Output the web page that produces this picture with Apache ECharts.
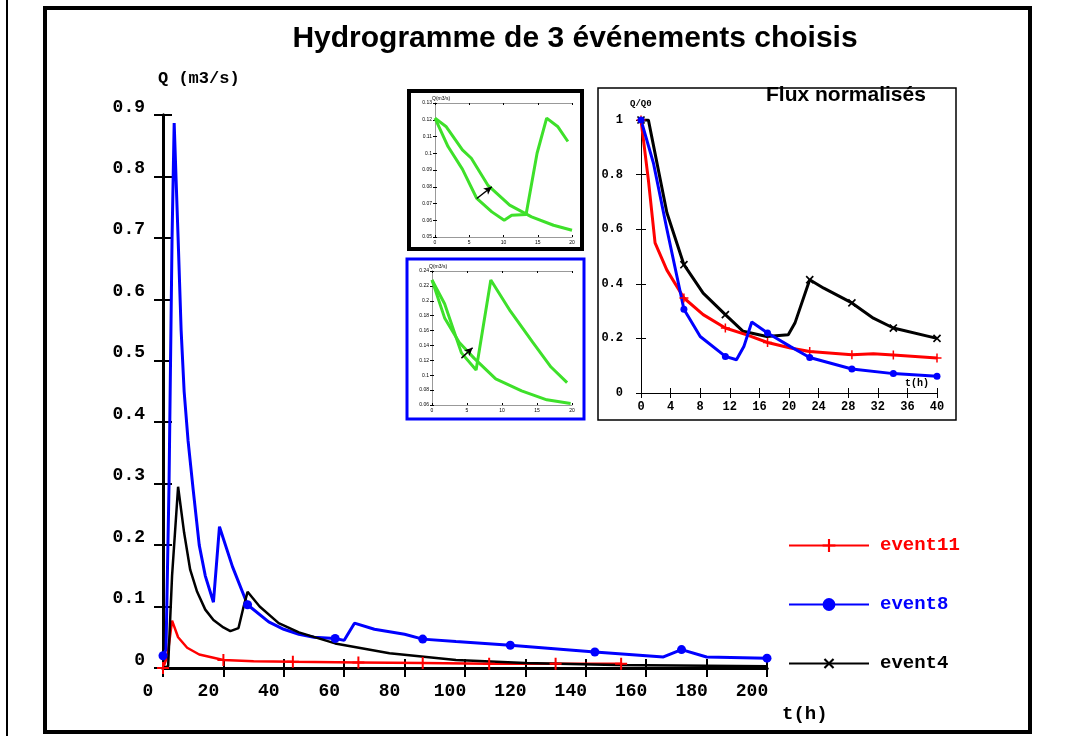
<!DOCTYPE html>
<html>
<head>
<meta charset="utf-8">
<script src="https://cdn.jsdelivr.net/npm/echarts@6/dist/echarts.min.js"></script>
<style>
  html, body { margin: 0; padding: 0; background: #fff; }
  #chart { width: 1072px; height: 736px; }
</style>
</head>
<body>
<div id="chart"></div>
<script>
// Main hydrograph: Q (m3/s) vs t (h)
const ev11T = [0, 1.5, 3, 5, 8, 12, 20, 30, 43, 64.7, 86, 108, 130, 151.7];
const ev11Q = [0, 0.02, 0.077, 0.05, 0.033, 0.022, 0.013, 0.011, 0.01, 0.009, 0.008, 0.007, 0.007, 0.007];
const ev11Marks = [0, 6, 8, 9, 10, 11, 12, 13];

const ev8T = [0, 1, 2, 3, 3.7, 4.3, 5, 6, 7, 8.3, 10, 12, 14, 16.7, 18.7, 23, 28, 35, 40, 45, 50, 57, 60, 63.4, 70, 80, 86, 97, 115, 143, 160, 165.7, 171.7, 180, 200];
const ev8Q = [0.02, 0.03, 0.3, 0.7, 0.887, 0.8, 0.7, 0.55, 0.45, 0.37, 0.29, 0.2, 0.15, 0.107, 0.23, 0.165, 0.103, 0.075, 0.063, 0.055, 0.05, 0.048, 0.045, 0.073, 0.063, 0.055, 0.047, 0.043, 0.037, 0.026, 0.02, 0.018, 0.03, 0.018, 0.016];
const ev8Marks = [0, 16, 21, 26, 28, 29, 32, 34];

const ev4T = [0, 1.7, 3, 5, 7, 9, 11.3, 14, 16.7, 20, 22.3, 25, 26.7, 28, 32, 38.3, 45, 57, 75, 97, 120, 150, 200];
const ev4Q = [0, 0.003, 0.15, 0.295, 0.22, 0.16, 0.124, 0.095, 0.078, 0.066, 0.06, 0.065, 0.1, 0.124, 0.1, 0.073, 0.058, 0.04, 0.024, 0.013, 0.008, 0.005, 0.003];
const ev4Marks = [];

// Normalised flows Q/Q0 vs t (h)
const n4T = [0, 1, 1.44, 3.5, 5.8, 8.4, 11.4, 13.8, 17, 19.9, 20.8, 22.8, 24.7, 28.5, 31.4, 34.1, 40];
const n4Q = [1, 1, 0.94, 0.66, 0.47, 0.366, 0.287, 0.226, 0.207, 0.213, 0.256, 0.415, 0.384, 0.33, 0.274, 0.238, 0.2];
const n4Marks = [0, 4, 6, 11, 13, 15, 16];
const n11T = [0, 1, 1.9, 3.5, 5.8, 8.4, 11.4, 14.3, 17.1, 20.2, 22.8, 28.5, 31.4, 34.1, 40];
const n11Q = [1, 0.78, 0.55, 0.45, 0.348, 0.287, 0.238, 0.213, 0.185, 0.165, 0.152, 0.14, 0.144, 0.139, 0.128];
const n11Marks = [0, 4, 6, 8, 10, 11, 13, 14];
const n8T = [0, 1.7, 3.5, 5.8, 8, 11.4, 12.9, 13.9, 14.97, 17.1, 20.2, 22.8, 28.5, 34.1, 40];
const n8Q = [1, 0.84, 0.6, 0.307, 0.207, 0.134, 0.122, 0.17, 0.26, 0.22, 0.17, 0.13, 0.088, 0.071, 0.061];
const n8Marks = [0, 3, 5, 9, 11, 12, 13, 14];

// Inset 1 (black frame): Q (m3/s), two green loops
const g1aT = [0, 1.9, 4, 6.1, 8.3, 10.1, 11.2, 13.3, 14.9, 16.3, 17.9, 19.4];
const g1aQ = [0.121, 0.104, 0.0905, 0.073, 0.065, 0.06, 0.063, 0.0635, 0.1, 0.121, 0.116, 0.107];
const g1bT = [0, 1.6, 4, 5.3, 7.7, 10.9, 14.1, 17.3, 20];
const g1bQ = [0.121, 0.116, 0.102, 0.097, 0.081, 0.069, 0.062, 0.057, 0.054];
const g1Arrow = [[6.1, 0.073], [8.3, 0.08]];

// Inset 2 (blue frame)
const g2aT = [0, 1.8, 4.2, 6.3, 8.4, 11.2, 14.4, 17, 19.3];
const g2aQ = [0.228, 0.196, 0.13, 0.107, 0.228, 0.186, 0.144, 0.111, 0.09];
const g2bT = [0, 1.8, 3.9, 6, 9.1, 12.8, 16.4, 19.8];
const g2bQ = [0.228, 0.177, 0.144, 0.123, 0.095, 0.079, 0.067, 0.062];
const g2Arrow = [[4.2, 0.123], [5.8, 0.137]];

const MONO = '"Liberation Mono", "DejaVu Sans Mono", monospace';
const SANS = '"Liberation Sans", Arial, sans-serif';

const PLUS = 'path://M-1,-6H1V-1H6V1H1V6H-1V1H-6V-1H-1Z';

function pts(ts, qs, marks) {
  return ts.map((t, i) => marks.includes(i) ? [t, qs[i]] : { value: [t, qs[i]], symbol: 'none' });
}

function boxAxes(gi, xmin, xmax, xint, ymin, ymax, yint, labelStyle, z, yFmt) {
  const tick = () => ({ show: true, inside: true, length: 5, lineStyle: { color: '#000', width: 1 } });
  const line = () => ({ show: true, lineStyle: { color: '#000', width: 1 } });
  return {
    x: [
      { type: 'value', gridIndex: gi, min: xmin, max: xmax, interval: xint, z,
        axisLine: line(), axisTick: tick(), splitLine: { show: false },
        axisLabel: Object.assign({ show: true, color: '#000' }, labelStyle) },
      { type: 'value', gridIndex: gi, position: 'top', min: xmin, max: xmax, interval: xint, z,
        axisLine: line(), axisTick: tick(), splitLine: { show: false }, axisLabel: { show: false } },
    ],
    y: [
      { type: 'value', gridIndex: gi, min: ymin, max: ymax, interval: yint, z,
        axisLine: line(), axisTick: tick(), splitLine: { show: false },
        axisLabel: Object.assign({ show: true, color: '#000', formatter: yFmt }, labelStyle) },
      { type: 'value', gridIndex: gi, position: 'right', min: ymin, max: ymax, interval: yint, z,
        axisLine: line(), axisTick: tick(), splitLine: { show: false }, axisLabel: { show: false } },
    ],
  };
}

const chart = echarts.init(document.getElementById('chart'));

const mainAx = boxAxes(0, 0, 200, 20, 0, 0.9, 0.1,
  { fontFamily: MONO, fontWeight: 'bold', fontSize: 18, margin: 12 }, 2, v => v === 0 ? '0' : v.toFixed(1));
[mainAx.x[0], mainAx.x[1], mainAx.y[0], mainAx.y[1]].forEach(a => { a.axisLine.lineStyle.width = 3; a.axisTick.length = 9; a.axisTick.lineStyle.width = 2; });
mainAx.x[0].axisLabel.padding = [0, 30, 0, 0];
mainAx.x[0].axisLabel.margin = 14;
mainAx.y[0].axisLabel.verticalAlign = 'bottom';
mainAx.y[0].axisLabel.lineHeight = 16;
mainAx.y[0].axisLabel.margin = 18;

const normAx = boxAxes(1, 0, 40, 4, 0, 1, 0.2,
  { fontFamily: MONO, fontWeight: 'bold', fontSize: 12, margin: 8 }, 30, v => v === 0 ? '0' : (v === 1 ? '1' : v.toFixed(1)));
normAx.y[0].axisLabel.margin = 18;

const tinyLbl = { fontFamily: SANS, fontSize: 5, margin: 3 };
const g1Ax = boxAxes(2, 0, 20, 5, 0.05, 0.13, 0.01, tinyLbl, 30, v => String(+v.toFixed(2)));
const g2Ax = boxAxes(3, 0, 20, 5, 0.06, 0.24, 0.02, tinyLbl, 30, v => String(+v.toFixed(2)));
[g1Ax, g2Ax].forEach(a => [a.x[0], a.x[1], a.y[0], a.y[1]].forEach(ax => {
  ax.axisTick.length = 2; ax.axisLine.lineStyle.color = '#999';
}));

const xAxes = [].concat(mainAx.x, normAx.x, g1Ax.x, g2Ax.x);
const yAxes = [].concat(mainAx.y, normAx.y, g1Ax.y, g2Ax.y);

function lineSeries(name, x, y, ts, qs, marks, color, sym, size, rot, width, z) {
  return {
    name, type: 'line', xAxisIndex: x, yAxisIndex: y, data: pts(ts, qs, marks),
    symbol: sym, symbolSize: size, symbolRotate: rot, showSymbol: true, showAllSymbol: true,
    lineStyle: { color, width }, itemStyle: { color }, z, animation: false, smooth: false,
  };
}

function greenSeries(x, y, ts, qs) {
  return { type: 'line', xAxisIndex: x, yAxisIndex: y, data: ts.map((t, i) => [t, qs[i]]), symbol: 'none',
    lineStyle: { color: '#3ee02a', width: 3 }, z: 30, animation: false };
}

// small black arrow: plain segment, arrow head drawn as the end symbol
function arrowSeries(x, y, seg, rot) {
  return { type: 'line', xAxisIndex: x, yAxisIndex: y, z: 31, animation: false,
    data: [{ value: seg[0], symbol: 'none' }, { value: seg[1], symbol: 'arrow', symbolRotate: rot, symbolSize: [6, 8] }],
    showSymbol: true, showAllSymbol: true,
    lineStyle: { color: '#000', width: 1.5 }, itemStyle: { color: '#000' } };
}

const option = {
  backgroundColor: '#fff',
  animation: false,
  title: {
    text: 'Hydrogramme de 3 événements choisis', left: 570, top: 19, textAlign: 'center',
    textStyle: { fontFamily: SANS, fontWeight: 'bold', fontSize: 30, color: '#000' },
  },
  grid: [
    { left: 163, top: 115, width: 604, height: 553 },
    { left: 641, top: 120, width: 296, height: 273 },
    { left: 435, top: 103, width: 137, height: 134 },
    { left: 432, top: 271, width: 140, height: 134 },
  ],
  xAxis: xAxes,
  yAxis: yAxes,
  legend: {
    orient: 'vertical', left: 783, top: 531, itemGap: 40, itemWidth: 80, itemHeight: 16,
    data: [
      { name: 'event11', textStyle: { color: '#ff0000' } },
      { name: 'event8', textStyle: { color: '#0000ff' } },
      { name: 'event4', textStyle: { color: '#000' } },
    ],
    textStyle: { fontFamily: MONO, fontWeight: 'bold', fontSize: 19, padding: [0, 0, 0, 6] },
  },
  graphic: [
    { type: 'rect', shape: { x: 45, y: 8, width: 985, height: 724 }, style: { fill: 'none', stroke: '#000', lineWidth: 4 }, z: 1 },
    { type: 'line', shape: { x1: 7, y1: 0, x2: 7, y2: 736 }, style: { stroke: '#000', lineWidth: 2 }, z: 1 },
    { type: 'text', left: 158, top: 70, style: { text: 'Q (m3/s)', font: 'bold 17px "Liberation Mono"', fill: '#000' }, z: 5 },
    { type: 'text', left: 782, top: 705, style: { text: 't(h)', font: 'bold 19px "Liberation Mono"', fill: '#000' }, z: 5 },
    { type: 'rect', shape: { x: 598, y: 88, width: 358, height: 332 }, style: { fill: '#fff', stroke: '#000', lineWidth: 1.5 }, z: 10 },
    { type: 'rect', shape: { x: 409, y: 91, width: 173, height: 158 }, style: { fill: '#fff', stroke: '#000', lineWidth: 4 }, z: 10 },
    { type: 'rect', shape: { x: 407, y: 259, width: 177, height: 160 }, style: { fill: '#fff', stroke: '#0000ff', lineWidth: 3 }, z: 10 },
    { type: 'text', left: 766, top: 85, style: { text: 'Flux normalisés', font: 'bold 21px "Liberation Sans"', fill: '#000' }, z: 40 },
    { type: 'text', left: 630, top: 99, style: { text: 'Q/Q0', font: 'bold 9px "Liberation Mono"', fill: '#000' }, z: 40 },
    { type: 'text', left: 905, top: 378, style: { text: 't(h)', font: 'bold 10px "Liberation Mono"', fill: '#000' }, z: 40 },
    { type: 'text', left: 432, top: 96, style: { text: 'Q(m3/s)', font: '5px "Liberation Sans"', fill: '#000' }, z: 40 },
    { type: 'text', left: 429, top: 264, style: { text: 'Q(m3/s)', font: '5px "Liberation Sans"', fill: '#000' }, z: 40 },
  ],
  series: [
    lineSeries('event11', 0, 0, ev11T, ev11Q, ev11Marks, '#ff0000', PLUS, 12, 0, 2.5, 4),
    lineSeries('event8', 0, 0, ev8T, ev8Q, ev8Marks, '#0000ff', 'circle', 9, 0, 3, 4),
    lineSeries('event4', 0, 0, ev4T, ev4Q, ev4Marks, '#000000', PLUS, 13, 45, 2.5, 4),
    lineSeries('n4', 2, 2, n4T, n4Q, n4Marks, '#000000', PLUS, 10, 45, 3, 30),
    lineSeries('n11', 2, 2, n11T, n11Q, n11Marks, '#ff0000', PLUS, 9, 0, 3, 30),
    lineSeries('n8', 2, 2, n8T, n8Q, n8Marks, '#0000ff', 'circle', 7, 0, 3, 30),
    greenSeries(4, 4, g1aT, g1aQ),
    greenSeries(4, 4, g1bT, g1bQ),
    arrowSeries(4, 4, g1Arrow, -52),
    greenSeries(6, 6, g2aT, g2aQ),
    greenSeries(6, 6, g2bT, g2bQ),
    arrowSeries(6, 6, g2Arrow, -47),
  ],
};

chart.setOption(option);
</script>
</body>
</html>
